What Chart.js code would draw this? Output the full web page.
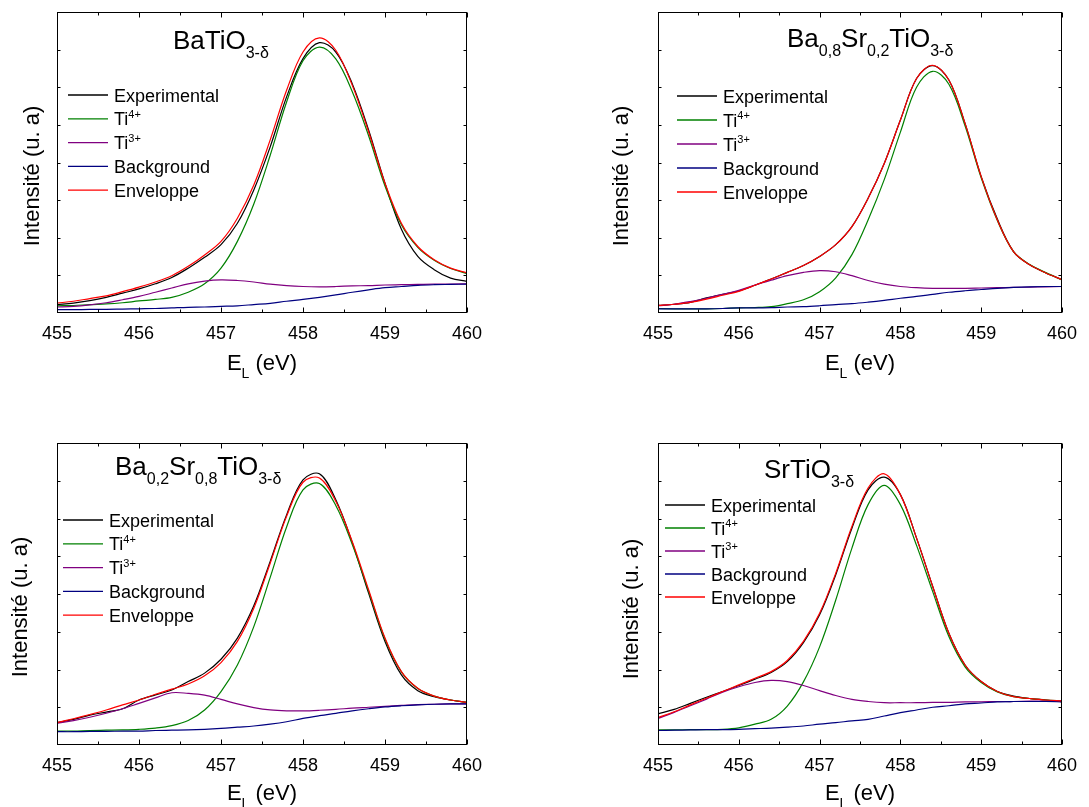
<!DOCTYPE html>
<html>
<head>
<meta charset="utf-8">
<title>Ti 2p3/2 XPS</title>
<script src="https://cdn.jsdelivr.net/npm/chart.js@4.4.0/dist/chart.umd.min.js"></script>
<style>
  html, body { margin: 0; padding: 0; background: #fff; }
  #wrap { position: relative; width: 1089px; height: 807px; }
  canvas { position: absolute; }
</style>
</head>
<body>
<div id="wrap">
  <canvas id="c1" width="545" height="404" style="left:0;top:0"></canvas>
  <canvas id="c2" width="544" height="404" style="left:545px;top:0"></canvas>
  <canvas id="c3" width="545" height="403" style="left:0;top:404px"></canvas>
  <canvas id="c4" width="544" height="403" style="left:545px;top:404px"></canvas>
</div>
<script>
// binding energy grid (eV)
var energy = [455, 455.2, 455.4, 455.6, 455.8, 456, 456.2, 456.4, 456.6, 456.8, 457, 457.2, 457.4,
              457.6, 457.8, 458, 458.2, 458.4, 458.6, 458.8, 459, 459.2, 459.4, 459.6, 459.8, 460];
var xTicks = [455, 456, 457, 458, 459, 460];
var seriesNames = ['Experimental', 'Ti4+', 'Ti3+', 'Background', 'Enveloppe'];
var seriesColors = ['#000000', '#008000', '#800080', '#000080', '#ff0000'];

// BaTiO3-d
var bto_exp = [2.8, 3.3, 4.1, 5.2, 6.6, 8.0, 9.7, 11.8, 14.9, 18.5, 22.7, 29.8, 40.9, 55.2, 71.8, 84.5, 89.8, 86.7, 76.2, 60.8, 43.1, 27.8, 18.8, 14.4, 11.6, 10.5];
var bto_ti4 = [2.4, 2.5, 2.8, 3.0, 3.4, 4.0, 4.5, 5.2, 6.9, 9.7, 14.9, 23.8, 36.2, 52.4, 70.1, 83.8, 88.3, 84.4, 73.6, 58.9, 42.2, 29.3, 21.8, 17.5, 14.8, 13.1];
var bto_ti3 = [2.0, 2.2, 2.7, 3.4, 4.4, 5.5, 6.9, 8.3, 9.7, 10.6, 11.0, 10.8, 10.3, 9.6, 9.1, 8.8, 8.7, 8.8, 9.0, 9.1, 9.3, 9.4, 9.5, 9.6, 9.6, 9.7];
var bto_bg  = [1.1, 1.1, 1.2, 1.2, 1.3, 1.4, 1.5, 1.7, 1.9, 2.0, 2.2, 2.4, 2.8, 3.2, 3.9, 4.5, 5.2, 6.0, 6.9, 7.7, 8.4, 8.8, 9.2, 9.4, 9.5, 9.6];
var bto_env = [3.3, 3.9, 4.8, 5.7, 7.1, 8.6, 10.3, 12.4, 15.5, 19.3, 23.8, 31.5, 42.5, 57.5, 74.0, 86.7, 91.4, 87.3, 75.7, 60.2, 43.1, 29.8, 22.1, 17.7, 14.9, 13.3];

// Ba0,8Sr0,2TiO3-d
var bs82_exp = [2.5, 2.9, 3.5, 5.0, 6.2, 7.3, 9.2, 11.3, 13.5, 15.8, 18.8, 22.7, 28.7, 38.1, 49.7, 64.1, 77.9, 82.2, 77.4, 63.0, 45.3, 31.2, 20.4, 16.0, 13.3, 11.1];
var bs82_ti4 = [1.5, 1.4, 1.4, 1.4, 1.5, 1.7, 1.8, 2.1, 3.1, 4.4, 7.1, 11.7, 19.4, 30.9, 44.3, 60.1, 75.0, 80.3, 76.0, 62.2, 44.9, 30.7, 20.4, 16.1, 13.4, 11.0];
var bs82_ti3 = [2.4, 2.9, 3.8, 4.9, 6.2, 7.5, 9.3, 10.9, 12.4, 13.5, 14.1, 13.7, 12.4, 10.8, 9.6, 8.8, 8.4, 8.2, 8.2, 8.2, 8.3, 8.4, 8.5, 8.6, 8.7, 8.8];
var bs82_bg  = [1.4, 1.4, 1.4, 1.4, 1.5, 1.7, 1.7, 1.8, 2.0, 2.1, 2.4, 2.8, 3.1, 3.6, 4.2, 4.9, 5.5, 6.2, 6.9, 7.4, 7.8, 8.2, 8.5, 8.7, 8.8, 8.8];
var bs82_env = [2.5, 2.9, 3.5, 4.6, 5.9, 7.2, 9.2, 11.3, 13.5, 15.8, 18.8, 22.7, 28.7, 38.1, 49.7, 64.1, 77.9, 82.3, 77.4, 63.0, 45.3, 30.9, 20.4, 16.0, 13.3, 11.1];

// Ba0,2Sr0,8TiO3-d
var bs28_exp = [7.4, 8.5, 9.9, 10.9, 12.0, 14.9, 16.6, 18.2, 21.0, 23.8, 28.4, 35.4, 46.1, 60.8, 76.2, 87.8, 89.8, 81.2, 67.1, 50.3, 34.3, 23.2, 18.0, 16.0, 14.9, 14.1];
var bs28_ti4 = [4.6, 4.6, 4.8, 4.9, 5.0, 5.2, 5.6, 6.4, 8.1, 11.6, 17.7, 26.5, 39.2, 55.5, 72.2, 84.5, 86.6, 79.3, 66.5, 50.9, 35.1, 24.2, 18.7, 16.2, 14.9, 14.1];
var bs28_ti3 = [7.2, 8.1, 9.2, 10.5, 12.0, 13.8, 15.6, 17.3, 17.1, 16.5, 15.1, 13.6, 12.4, 11.6, 11.3, 11.3, 11.5, 11.8, 12.2, 12.5, 12.8, 13.1, 13.4, 13.5, 13.6, 13.6];
var bs28_bg  = [4.4, 4.4, 4.5, 4.5, 4.6, 4.6, 4.8, 4.9, 5.0, 5.2, 5.5, 5.9, 6.3, 6.9, 7.7, 8.8, 9.7, 10.5, 11.3, 12.0, 12.6, 13.0, 13.3, 13.5, 13.6, 13.6];
var bs28_env = [7.4, 8.7, 10.1, 11.6, 13.3, 14.9, 16.8, 18.5, 20.2, 22.9, 27.3, 34.3, 45.3, 60.2, 75.7, 87.0, 88.4, 80.7, 67.4, 51.4, 35.4, 24.3, 18.8, 16.2, 14.9, 14.1];

// SrTiO3-d
var sto_exp = [10.3, 11.8, 13.8, 15.8, 17.7, 19.7, 21.8, 24.0, 27.6, 33.9, 43.1, 56.4, 71.8, 84.5, 88.7, 82.9, 68.5, 52.5, 37.0, 26.5, 21.0, 17.7, 16.2, 15.4, 14.9, 14.3];
var sto_ti4 = [5.0, 5.0, 5.1, 5.1, 5.2, 5.7, 6.9, 8.5, 12.9, 20.9, 32.5, 48.0, 65.2, 79.6, 86.0, 79.6, 66.1, 50.8, 35.9, 25.9, 20.7, 17.6, 16.0, 15.4, 14.9, 14.6];
var sto_ti3 = [8.8, 10.8, 13.0, 15.2, 17.5, 19.3, 20.7, 21.4, 21.0, 19.7, 18.0, 16.4, 15.1, 14.4, 14.0, 14.0, 14.0, 14.1, 14.1, 14.3, 14.3, 14.4, 14.4, 14.5, 14.5, 14.6];
var sto_bg  = [4.8, 4.9, 5.0, 5.1, 5.1, 5.2, 5.4, 5.6, 5.9, 6.3, 6.9, 7.4, 8.0, 8.5, 9.6, 10.7, 11.6, 12.5, 13.0, 13.6, 13.9, 14.3, 14.4, 14.4, 14.4, 14.3];
var sto_env = [9.1, 11.0, 13.3, 15.5, 17.7, 19.9, 22.1, 24.3, 28.0, 34.3, 43.6, 56.9, 72.4, 85.1, 89.8, 82.9, 68.5, 52.5, 37.0, 26.5, 21.0, 17.7, 16.0, 15.4, 14.9, 14.6];

var FONT = "'Liberation Sans', Arial, Helvetica, sans-serif";

// page layout of the four panels (canvas box, plot box, text anchors)
var panels = [
  { id: 'c1', cv: {x: 0, y: 0, w: 545, h: 404}, area: {l: 57, t: 12, r: 467, b: 313},
    title: [['BaTiO'], ['3-\u03b4', 'sub']], titlePos: {x: 173, y: 49},
    leg: {x: 68, y: 95, dy: 23.8}, yTitle: {x: 33, y: 176}, xTitleY: 370,
    series: [bto_exp, bto_ti4, bto_ti3, bto_bg, bto_env] },
  { id: 'c2', cv: {x: 545, y: 0, w: 544, h: 404}, area: {l: 658, t: 12, r: 1062, b: 313},
    title: [['Ba'], ['0,8', 'sub'], ['Sr'], ['0,2', 'sub'], ['TiO'], ['3-\u03b4', 'sub']], titlePos: {x: 787, y: 47},
    leg: {x: 677, y: 96, dy: 24}, yTitle: {x: 622, y: 176}, xTitleY: 370,
    series: [bs82_exp, bs82_ti4, bs82_ti3, bs82_bg, bs82_env] },
  { id: 'c3', cv: {x: 0, y: 404, w: 545, h: 403}, area: {l: 57, t: 443, r: 467, b: 745},
    title: [['Ba'], ['0,2', 'sub'], ['Sr'], ['0,8', 'sub'], ['TiO'], ['3-\u03b4', 'sub']], titlePos: {x: 115, y: 475},
    leg: {x: 63, y: 520, dy: 23.8}, yTitle: {x: 21, y: 607}, xTitleY: 800,
    series: [bs28_exp, bs28_ti4, bs28_ti3, bs28_bg, bs28_env] },
  { id: 'c4', cv: {x: 545, y: 404, w: 544, h: 403}, area: {l: 658, t: 443, r: 1062, b: 745},
    title: [['SrTiO'], ['3-\u03b4', 'sub']], titlePos: {x: 764, y: 478},
    leg: {x: 665, y: 505, dy: 23}, yTitle: {x: 632, y: 609}, xTitleY: 800,
    series: [sto_exp, sto_ti4, sto_ti3, sto_bg, sto_env] }
];

// text with sub/superscript runs, returns end x
function drawRuns(ctx, runs, x, y, size, measureOnly) {
  runs.forEach(function (r) {
    var small = r[1] === 'sub' || r[1] === 'sup';
    ctx.font = (small ? Math.round(size * 0.62) : size) + 'px ' + FONT;
    var dy = r[1] === 'sub' ? size * 0.36 : (r[1] === 'sup' ? -size * 0.4 : 0);
    if (!measureOnly) ctx.fillText(r[0], x, y + dy);
    x += ctx.measureText(r[0]).width;
  });
  return x;
}

function nameRuns(name) {
  var m = /^(Ti)(\d\+)$/.exec(name);
  return m ? [[m[1]], [m[2], 'sup']] : [[name]];
}

function makeDecor(p) {
  return {
    id: 'decor',
    afterDraw: function (chart) {
      var ctx = chart.ctx, a = chart.chartArea;
      var xs = chart.scales.x, ys = chart.scales.y;
      var ox = p.cv.x, oy = p.cv.y;
      ctx.save();

      // frame + inward ticks on all four sides
      ctx.strokeStyle = '#000';
      ctx.lineWidth = 1;
      var L = Math.round(a.left) + 0.5, R = Math.round(a.right) - 0.5;
      var T = Math.round(a.top) + 0.5, B = Math.round(a.bottom) - 0.5;
      ctx.strokeRect(L, T, R - L, B - T);
      ctx.beginPath();
      for (var v = 455; v <= 460; v += 0.5) {
        var px = Math.round(xs.getPixelForValue(v)) + 0.5;
        var len = v % 1 === 0 ? 5 : 3;
        ctx.moveTo(px, B); ctx.lineTo(px, B - len);
        ctx.moveTo(px, T); ctx.lineTo(px, T + len);
      }
      for (var k = 1; k < 8; k++) {
        var py = Math.round(ys.getPixelForValue(k * 12.5)) + 0.5;
        ctx.moveTo(L, py); ctx.lineTo(L + 3, py);
        ctx.moveTo(R, py); ctx.lineTo(R - 3, py);
      }
      ctx.stroke();

      ctx.fillStyle = '#000';
      ctx.textBaseline = 'alphabetic';
      ctx.textAlign = 'left';

      // compound name
      drawRuns(ctx, p.title, p.titlePos.x - ox, p.titlePos.y - oy, 26);

      // legend
      seriesNames.forEach(function (name, i) {
        var y = p.leg.y - oy + i * p.leg.dy;
        var x = p.leg.x - ox;
        ctx.strokeStyle = seriesColors[i];
        ctx.lineWidth = 1.3;
        ctx.beginPath();
        ctx.moveTo(x, y); ctx.lineTo(x + 40, y);
        ctx.stroke();
        ctx.fillStyle = '#000';
        drawRuns(ctx, nameRuns(name), x + 46, y + 6.5, 18);
      });

      // x axis title
      var xt = [['E'], ['L', 'sub'], [' (eV)']];
      var w = drawRuns(ctx, xt, 0, 0, 22, true);
      var cx = (a.left + a.right) / 2;
      drawRuns(ctx, xt, cx - w / 2, p.xTitleY - oy, 22);

      // y axis title
      ctx.translate(p.yTitle.x - ox, p.yTitle.y - oy);
      ctx.rotate(-Math.PI / 2);
      ctx.font = '22px ' + FONT;
      ctx.textAlign = 'center';
      ctx.textBaseline = 'middle';
      ctx.fillText('Intensit\u00e9 (u. a)', 0, 0);
      ctx.restore();
    }
  };
}

function makePanel(p) {
  var c = p.cv, a = p.area;
  var bottomSpace = c.y + c.h - a.b;
  var ctx = document.getElementById(p.id).getContext('2d');
  return new Chart(ctx, {
    type: 'line',
    data: {
      datasets: seriesNames.map(function (name, i) {
        return {
          label: name,
          data: energy.map(function (e, j) { return { x: e, y: p.series[i][j] }; }),
          borderColor: seriesColors[i],
          borderWidth: 1.2,
          pointRadius: 0,
          tension: 0.35,
          fill: false,
          order: 5 - i
        };
      })
    },
    options: {
      responsive: false,
      animation: false,
      devicePixelRatio: 1,
      events: [],
      layout: {
        padding: { left: a.l - c.x, top: a.t - c.y, right: c.x + c.w - a.r, bottom: 0 }
      },
      scales: {
        x: {
          type: 'linear', min: 455, max: 460,
          afterFit: function (s) { s.height = bottomSpace; },
          afterBuildTicks: function (s) { s.ticks = xTicks.map(function (v) { return { value: v }; }); },
          grid: { display: false, drawTicks: false },
          border: { display: false },
          ticks: { padding: 10, color: '#000', font: { size: 18, family: FONT }, maxRotation: 0, autoSkip: false }
        },
        y: { display: false, min: 0, max: 100 }
      },
      plugins: { legend: { display: false }, tooltip: { enabled: false } }
    },
    plugins: [makeDecor(p)]
  });
}

panels.forEach(makePanel);
</script>
</body>
</html>
